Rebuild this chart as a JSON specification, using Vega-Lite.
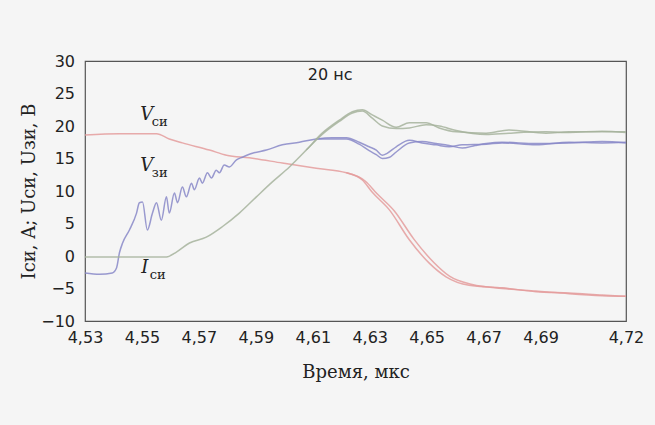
{
  "$schema": "https://vega.github.io/schema/vega-lite/v6.json",
  "width": 541,
  "height": 260,
  "autosize": {"type": "none"},
  "padding": {"left": 85, "top": 61, "right": 29, "bottom": 104},
  "background": "#f5f5f5",
  "config": {
    "view": {"stroke": "#555555", "strokeWidth": 1.2, "fill": null}
  },
  "datasets": {
    "curves": [
      {"series": "Vsi", "run": 1, "t": 4.53, "v": 18.6},
      {"series": "Vsi", "run": 1, "t": 4.5421, "v": 18.8},
      {"series": "Vsi", "run": 1, "t": 4.5551, "v": 18.8},
      {"series": "Vsi", "run": 1, "t": 4.5596, "v": 18.0},
      {"series": "Vsi", "run": 1, "t": 4.5642, "v": 17.4},
      {"series": "Vsi", "run": 1, "t": 4.5737, "v": 16.3},
      {"series": "Vsi", "run": 1, "t": 4.5797, "v": 15.5},
      {"series": "Vsi", "run": 1, "t": 4.5877, "v": 15.1},
      {"series": "Vsi", "run": 1, "t": 4.5993, "v": 14.3},
      {"series": "Vsi", "run": 1, "t": 4.6112, "v": 13.5},
      {"series": "Vsi", "run": 1, "t": 4.6218, "v": 12.8},
      {"series": "Vsi", "run": 1, "t": 4.6274, "v": 11.7},
      {"series": "Vsi", "run": 1, "t": 4.6309, "v": 9.8},
      {"series": "Vsi", "run": 1, "t": 4.6369, "v": 7.1},
      {"series": "Vsi", "run": 1, "t": 4.6439, "v": 2.5},
      {"series": "Vsi", "run": 1, "t": 4.6509, "v": -1.1},
      {"series": "Vsi", "run": 1, "t": 4.6568, "v": -3.2},
      {"series": "Vsi", "run": 1, "t": 4.6649, "v": -4.5},
      {"series": "Vsi", "run": 1, "t": 4.6765, "v": -4.9},
      {"series": "Vsi", "run": 1, "t": 4.6884, "v": -5.5},
      {"series": "Vsi", "run": 1, "t": 4.70, "v": -5.7},
      {"series": "Vsi", "run": 1, "t": 4.7116, "v": -6.0},
      {"series": "Vsi", "run": 1, "t": 4.72, "v": -6.2},
      {"series": "Vsi", "run": 2, "t": 4.6218, "v": 12.8},
      {"series": "Vsi", "run": 2, "t": 4.6285, "v": 11.5},
      {"series": "Vsi", "run": 2, "t": 4.6325, "v": 9.6},
      {"series": "Vsi", "run": 2, "t": 4.6385, "v": 7.0},
      {"series": "Vsi", "run": 2, "t": 4.6455, "v": 2.6},
      {"series": "Vsi", "run": 2, "t": 4.6525, "v": -1.0},
      {"series": "Vsi", "run": 2, "t": 4.658, "v": -3.1},
      {"series": "Vsi", "run": 2, "t": 4.666, "v": -4.4},
      {"series": "Vsi", "run": 2, "t": 4.6765, "v": -5.0},
      {"series": "Vsi", "run": 2, "t": 4.6884, "v": -5.4},
      {"series": "Vsi", "run": 2, "t": 4.70, "v": -5.8},
      {"series": "Vsi", "run": 2, "t": 4.7116, "v": -6.1},
      {"series": "Vsi", "run": 2, "t": 4.72, "v": -6.2},
      {"series": "Vzi", "run": 1, "t": 4.53, "v": -2.6},
      {"series": "Vzi", "run": 1, "t": 4.5351, "v": -2.8},
      {"series": "Vzi", "run": 1, "t": 4.5396, "v": -2.6},
      {"series": "Vzi", "run": 1, "t": 4.5411, "v": -1.8},
      {"series": "Vzi", "run": 1, "t": 4.5421, "v": 0.5},
      {"series": "Vzi", "run": 1, "t": 4.5432, "v": 2.0},
      {"series": "Vzi", "run": 1, "t": 4.5456, "v": 4.0},
      {"series": "Vzi", "run": 1, "t": 4.5481, "v": 6.6},
      {"series": "Vzi", "run": 1, "t": 4.5491, "v": 8.2},
      {"series": "Vzi", "run": 1, "t": 4.5502, "v": 8.3},
      {"series": "Vzi", "run": 1, "t": 4.5519, "v": 4.0},
      {"series": "Vzi", "run": 1, "t": 4.5537, "v": 6.6},
      {"series": "Vzi", "run": 1, "t": 4.5551, "v": 8.2},
      {"series": "Vzi", "run": 1, "t": 4.5568, "v": 5.5},
      {"series": "Vzi", "run": 1, "t": 4.5586, "v": 9.1},
      {"series": "Vzi", "run": 1, "t": 4.5596, "v": 6.6},
      {"series": "Vzi", "run": 1, "t": 4.5614, "v": 9.7},
      {"series": "Vzi", "run": 1, "t": 4.5625, "v": 8.2},
      {"series": "Vzi", "run": 1, "t": 4.5642, "v": 10.6},
      {"series": "Vzi", "run": 1, "t": 4.5656, "v": 9.1},
      {"series": "Vzi", "run": 1, "t": 4.5674, "v": 11.2},
      {"series": "Vzi", "run": 1, "t": 4.5684, "v": 10.2},
      {"series": "Vzi", "run": 1, "t": 4.5702, "v": 12.0},
      {"series": "Vzi", "run": 1, "t": 4.5712, "v": 11.2},
      {"series": "Vzi", "run": 1, "t": 4.5730, "v": 12.8},
      {"series": "Vzi", "run": 1, "t": 4.5744, "v": 12.0},
      {"series": "Vzi", "run": 1, "t": 4.5761, "v": 13.2},
      {"series": "Vzi", "run": 1, "t": 4.5772, "v": 12.8},
      {"series": "Vzi", "run": 1, "t": 4.5789, "v": 14.0},
      {"series": "Vzi", "run": 1, "t": 4.5807, "v": 13.7},
      {"series": "Vzi", "run": 1, "t": 4.5832, "v": 14.8},
      {"series": "Vzi", "run": 1, "t": 4.5853, "v": 15.2},
      {"series": "Vzi", "run": 1, "t": 4.5888, "v": 15.8},
      {"series": "Vzi", "run": 1, "t": 4.5937, "v": 16.3},
      {"series": "Vzi", "run": 1, "t": 4.5993, "v": 17.1},
      {"series": "Vzi", "run": 1, "t": 4.6053, "v": 17.5},
      {"series": "Vzi", "run": 1, "t": 4.6112, "v": 18.0},
      {"series": "Vzi", "run": 1, "t": 4.6168, "v": 18.2},
      {"series": "Vzi", "run": 1, "t": 4.6218, "v": 18.2},
      {"series": "Vzi", "run": 1, "t": 4.6263, "v": 17.5},
      {"series": "Vzi", "run": 1, "t": 4.6298, "v": 16.8},
      {"series": "Vzi", "run": 1, "t": 4.6323, "v": 16.3},
      {"series": "Vzi", "run": 1, "t": 4.6344, "v": 15.5},
      {"series": "Vzi", "run": 1, "t": 4.6361, "v": 15.8},
      {"series": "Vzi", "run": 1, "t": 4.6393, "v": 16.8},
      {"series": "Vzi", "run": 1, "t": 4.6439, "v": 17.8},
      {"series": "Vzi", "run": 1, "t": 4.6484, "v": 17.4},
      {"series": "Vzi", "run": 1, "t": 4.6533, "v": 17.1},
      {"series": "Vzi", "run": 1, "t": 4.6579, "v": 16.8},
      {"series": "Vzi", "run": 1, "t": 4.6625, "v": 17.1},
      {"series": "Vzi", "run": 1, "t": 4.6709, "v": 17.2},
      {"series": "Vzi", "run": 1, "t": 4.6765, "v": 17.4},
      {"series": "Vzi", "run": 1, "t": 4.6884, "v": 17.1},
      {"series": "Vzi", "run": 1, "t": 4.70, "v": 17.5},
      {"series": "Vzi", "run": 1, "t": 4.7116, "v": 17.4},
      {"series": "Vzi", "run": 1, "t": 4.72, "v": 17.5},
      {"series": "Vzi", "run": 2, "t": 4.6112, "v": 18.0},
      {"series": "Vzi", "run": 2, "t": 4.6168, "v": 18.0},
      {"series": "Vzi", "run": 2, "t": 4.6218, "v": 18.0},
      {"series": "Vzi", "run": 2, "t": 4.6263, "v": 17.2},
      {"series": "Vzi", "run": 2, "t": 4.6298, "v": 16.2},
      {"series": "Vzi", "run": 2, "t": 4.6323, "v": 15.6},
      {"series": "Vzi", "run": 2, "t": 4.6344, "v": 15.0},
      {"series": "Vzi", "run": 2, "t": 4.637, "v": 15.2},
      {"series": "Vzi", "run": 2, "t": 4.6393, "v": 16.0},
      {"series": "Vzi", "run": 2, "t": 4.6439, "v": 17.4},
      {"series": "Vzi", "run": 2, "t": 4.6484, "v": 17.6},
      {"series": "Vzi", "run": 2, "t": 4.6533, "v": 17.3},
      {"series": "Vzi", "run": 2, "t": 4.6579, "v": 17.0},
      {"series": "Vzi", "run": 2, "t": 4.6625, "v": 16.6},
      {"series": "Vzi", "run": 2, "t": 4.667, "v": 17.0},
      {"series": "Vzi", "run": 2, "t": 4.6709, "v": 17.3},
      {"series": "Vzi", "run": 2, "t": 4.6765, "v": 17.5},
      {"series": "Vzi", "run": 2, "t": 4.6884, "v": 17.3},
      {"series": "Vzi", "run": 2, "t": 4.70, "v": 17.4},
      {"series": "Vzi", "run": 2, "t": 4.7116, "v": 17.6},
      {"series": "Vzi", "run": 2, "t": 4.72, "v": 17.4},
      {"series": "Isi", "run": 1, "t": 4.53, "v": -0.15},
      {"series": "Isi", "run": 1, "t": 4.5421, "v": -0.15},
      {"series": "Isi", "run": 1, "t": 4.5586, "v": -0.15},
      {"series": "Isi", "run": 1, "t": 4.5621, "v": 0.6},
      {"series": "Isi", "run": 1, "t": 4.5667, "v": 2.0},
      {"series": "Isi", "run": 1, "t": 4.5726, "v": 2.9},
      {"series": "Isi", "run": 1, "t": 4.5782, "v": 4.5},
      {"series": "Isi", "run": 1, "t": 4.5842, "v": 6.6},
      {"series": "Isi", "run": 1, "t": 4.5902, "v": 9.1},
      {"series": "Isi", "run": 1, "t": 4.5958, "v": 11.4},
      {"series": "Isi", "run": 1, "t": 4.6018, "v": 13.7},
      {"series": "Isi", "run": 1, "t": 4.6077, "v": 16.3},
      {"series": "Isi", "run": 1, "t": 4.6133, "v": 18.9},
      {"series": "Isi", "run": 1, "t": 4.6193, "v": 20.9},
      {"series": "Isi", "run": 1, "t": 4.6239, "v": 22.2},
      {"series": "Isi", "run": 1, "t": 4.6274, "v": 22.5},
      {"series": "Isi", "run": 1, "t": 4.6309, "v": 21.7},
      {"series": "Isi", "run": 1, "t": 4.6344, "v": 20.9},
      {"series": "Isi", "run": 1, "t": 4.6393, "v": 19.8},
      {"series": "Isi", "run": 1, "t": 4.6439, "v": 20.5},
      {"series": "Isi", "run": 1, "t": 4.6498, "v": 20.5},
      {"series": "Isi", "run": 1, "t": 4.6544, "v": 19.7},
      {"series": "Isi", "run": 1, "t": 4.6604, "v": 19.1},
      {"series": "Isi", "run": 1, "t": 4.6709, "v": 18.9},
      {"series": "Isi", "run": 1, "t": 4.6789, "v": 19.4},
      {"series": "Isi", "run": 1, "t": 4.6919, "v": 18.9},
      {"series": "Isi", "run": 1, "t": 4.70, "v": 19.1},
      {"series": "Isi", "run": 1, "t": 4.7116, "v": 19.1},
      {"series": "Isi", "run": 1, "t": 4.72, "v": 19.1},
      {"series": "Isi", "run": 2, "t": 4.6077, "v": 16.3},
      {"series": "Isi", "run": 2, "t": 4.6133, "v": 18.7},
      {"series": "Isi", "run": 2, "t": 4.6193, "v": 20.7},
      {"series": "Isi", "run": 2, "t": 4.6239, "v": 22.0},
      {"series": "Isi", "run": 2, "t": 4.6274, "v": 22.3},
      {"series": "Isi", "run": 2, "t": 4.6309, "v": 21.2},
      {"series": "Isi", "run": 2, "t": 4.6344, "v": 20.0},
      {"series": "Isi", "run": 2, "t": 4.6393, "v": 19.6},
      {"series": "Isi", "run": 2, "t": 4.6439, "v": 19.7},
      {"series": "Isi", "run": 2, "t": 4.6498, "v": 20.2},
      {"series": "Isi", "run": 2, "t": 4.6544, "v": 20.0},
      {"series": "Isi", "run": 2, "t": 4.6604, "v": 19.3},
      {"series": "Isi", "run": 2, "t": 4.6709, "v": 18.7},
      {"series": "Isi", "run": 2, "t": 4.6789, "v": 18.9},
      {"series": "Isi", "run": 2, "t": 4.6919, "v": 19.1},
      {"series": "Isi", "run": 2, "t": 4.70, "v": 19.0},
      {"series": "Isi", "run": 2, "t": 4.7116, "v": 19.2},
      {"series": "Isi", "run": 2, "t": 4.72, "v": 19.0}
    ],
    "labels": [
      {"t": 4.5517, "v": 21.7, "main": "V", "sub": "си"},
      {"t": 4.5517, "v": 13.8, "main": "V", "sub": "зи"},
      {"t": 4.5510, "v": -1.9, "main": "I", "sub": "си"}
    ],
    "note": [
      {"t": 4.6161, "v": 27.8, "text": "20 нс"}
    ],
    "xticks": [
      {"t": 4.54}, {"t": 4.55}, {"t": 4.56}, {"t": 4.57},
      {"t": 4.58}, {"t": 4.59}, {"t": 4.60}, {"t": 4.61}, {"t": 4.62},
      {"t": 4.63}, {"t": 4.64}, {"t": 4.65}, {"t": 4.66}, {"t": 4.67},
      {"t": 4.68}, {"t": 4.69}, {"t": 4.70}, {"t": 4.71}
    ],
    "yticks": [
      {"v": -5}, {"v": 0}, {"v": 5}, {"v": 10},
      {"v": 15}, {"v": 20}, {"v": 25}
    ]
  },
  "encoding": {
    "x": {
      "field": "t", "type": "quantitative",
      "scale": {"domain": [4.53, 4.72], "nice": false, "zero": false},
      "axis": {
        "title": "Время, мкс",
        "titleFont": "DejaVu Serif",
        "titleFontSize": 18,
        "titleFontWeight": "normal",
        "titleColor": "#222222",
        "values": [4.53, 4.55, 4.57, 4.59, 4.61, 4.63, 4.65, 4.67, 4.69, 4.71999],
        "labelExpr": "replace(format(datum.value, '.2f'), '.', ',')",
        "grid": false,
        "domain": false,
        "ticks": false,
        "labelFont": "DejaVu Sans",
        "labelFontSize": 16,
        "labelColor": "#222222",
        "labelOverlap": false,
        "labelFlush": false,
        "labelPadding": 8,
        "titlePadding": 18
      }
    },
    "y": {
      "field": "v", "type": "quantitative",
      "scale": {"domain": [-10, 30], "nice": false, "zero": false},
      "axis": {
        "title": "Iси, A; Uси, Uзи, В",
        "titleFont": "DejaVu Serif",
        "titleFontSize": 18,
        "titleFontWeight": "normal",
        "titleColor": "#222222",
        "values": [-10, -5, 0, 5, 10, 15, 20, 25, 30],
        "grid": false,
        "domain": false,
        "ticks": false,
        "labelFont": "DejaVu Sans",
        "labelFontSize": 16,
        "labelColor": "#222222",
        "labelOverlap": false,
        "labelPadding": 10.5,
        "titlePadding": 2
      }
    }
  },
  "layer": [
    {
      "data": {"name": "xticks"},
      "mark": {"type": "rule", "strokeWidth": 1.3, "color": "#222222"},
      "encoding": {
        "y": {"datum": -10},
        "y2": {"datum": -8.9}
      }
    },
    {
      "data": {"name": "yticks"},
      "mark": {"type": "rule", "strokeWidth": 1.3, "color": "#222222"},
      "encoding": {
        "x": {"datum": 4.53},
        "x2": {"datum": 4.5325}
      }
    },
    {
      "data": {"name": "curves"},
      "mark": {"type": "line", "strokeWidth": 1.5, "interpolate": "monotone", "opacity": 0.85},
      "encoding": {
        "color": {
          "field": "series", "type": "nominal",
          "scale": {"domain": ["Vsi", "Vzi", "Isi"], "range": ["#e49c9c", "#8888c8", "#a6b39c"]},
          "legend": null
        },
        "detail": {"field": "run"},
        "order": {"field": "t", "type": "quantitative"}
      }
    },
    {
      "data": {"name": "labels"},
      "mark": {"type": "text", "font": "DejaVu Serif", "fontStyle": "italic", "fontSize": 18, "align": "center", "baseline": "middle", "color": "#222222"},
      "encoding": {
        "text": {"field": "main"}
      }
    },
    {
      "data": {"name": "labels"},
      "mark": {"type": "text", "font": "DejaVu Serif", "fontSize": 13, "align": "left", "baseline": "middle", "dx": 5, "dy": 7, "color": "#222222"},
      "encoding": {
        "text": {"field": "sub"}
      }
    },
    {
      "data": {"name": "note"},
      "mark": {"type": "text", "font": "DejaVu Sans", "fontSize": 16, "align": "center", "baseline": "middle", "color": "#222222"},
      "encoding": {
        "text": {"field": "text"}
      }
    }
  ]
}
